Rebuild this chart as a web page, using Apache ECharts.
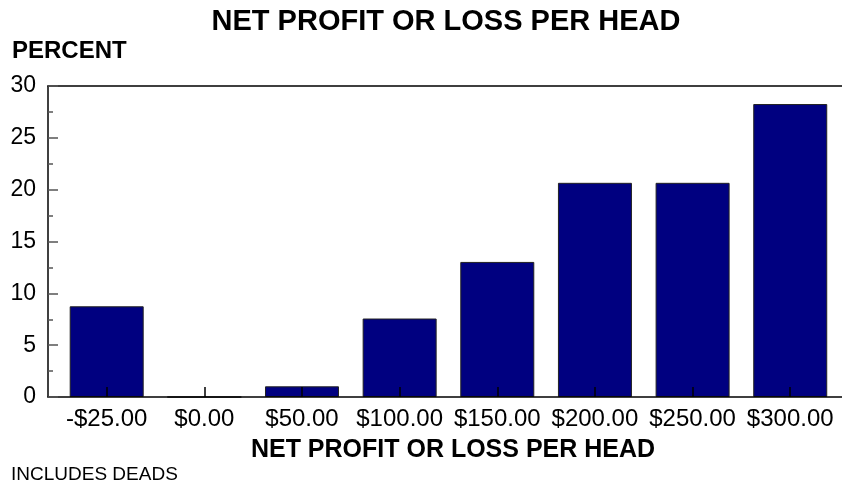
<!DOCTYPE html>
<html>
<head>
<meta charset="utf-8">
<script src="https://cdn.jsdelivr.net/npm/echarts@6/dist/echarts.min.js"></script>
<style>
  html, body { margin: 0; padding: 0; background: #fff; }
  #chart { width: 842px; height: 487px; }
</style>
</head>
<body>
<div id="chart"></div>
<script>
// values
const categories = ['-$25.00', '$0.00', '$50.00', '$100.00', '$150.00', '$200.00', '$250.00', '$300.00']
const percent = [8.75, 0, 1.03, 7.57, 13.03, 20.66, 20.66, 28.26]
const yTicks = [0, 5, 10, 15, 20, 25, 30]

const positions = categories.map((_, i) => i)
const FONT = 'Liberation Sans, Arial, sans-serif'

const chart = echarts.init(document.getElementById('chart'), null, { renderer: 'canvas' })

const option = {
  animation: false,
  grid: { left: 48, right: 0, top: 86, bottom: 90, containLabel: false },
  graphic: [
    {
      type: 'text',
      style: { text: 'NET PROFIT OR LOSS PER HEAD', x: 446, y: 22, textAlign: 'center', textVerticalAlign: 'middle', font: 'bold 29px ' + FONT, fill: '#000' }
    },
    {
      type: 'text',
      style: { text: 'PERCENT', x: 12, y: 51, textVerticalAlign: 'middle', font: 'bold 24px ' + FONT, fill: '#000' }
    },
    {
      type: 'text',
      style: { text: 'NET PROFIT OR LOSS PER HEAD', x: 453, y: 450, textAlign: 'center', textVerticalAlign: 'middle', font: 'bold 25px ' + FONT, fill: '#000' }
    },
    {
      type: 'text',
      style: { text: 'INCLUDES DEADS', x: 11, y: 475, textVerticalAlign: 'middle', font: '19px ' + FONT, fill: '#000' }
    }
  ],
  xAxis: [
    {
      type: 'value',
      z: 5,
      min: -0.601,
      max: 7.53,
      splitLine: { show: false },
      axisLine: { show: true, onZero: false, lineStyle: { color: '#000', width: 1.5 } },
      axisTick: { show: true, inside: true, length: 10, customValues: positions, lineStyle: { color: '#000', width: 1.5 } },
      axisLabel: {
        customValues: positions,
        formatter: v => categories[Math.round(v)],
        color: '#000', fontSize: 24, fontFamily: FONT, margin: 10
      }
    },
    {
      type: 'value',
      position: 'top',
      min: -0.601,
      max: 7.53,
      splitLine: { show: false },
      axisLine: { show: true, onZero: false, lineStyle: { color: '#000', width: 1.5 } },
      axisTick: { show: false },
      axisLabel: { show: false }
    }
  ],
  yAxis: {
    type: 'value',
    z: 5,
    min: yTicks[0],
    max: yTicks[yTicks.length - 1],
    interval: 5,
    splitLine: { show: false },
    axisLine: { show: true, onZero: false, lineStyle: { color: '#000', width: 1.5 } },
    axisTick: { show: true, inside: true, length: 10, lineStyle: { color: '#555', width: 1.5 } },
    minorTick: { show: true, splitNumber: 2, length: 5, lineStyle: { color: '#555', width: 1.5 } },
    axisLabel: { color: '#000', fontSize: 23, fontFamily: FONT, margin: 12 }
  },
  series: [
    {
      type: 'bar',
      xAxisIndex: 0,
      barWidth: 74,
      data: positions.map((p, i) => [p, percent[i]]),
      itemStyle: { color: '#000080', borderColor: '#222', borderWidth: 1 }
    }
  ]
}

chart.setOption(option)
window.addEventListener('resize', () => chart.resize())
</script>
</body>
</html>
